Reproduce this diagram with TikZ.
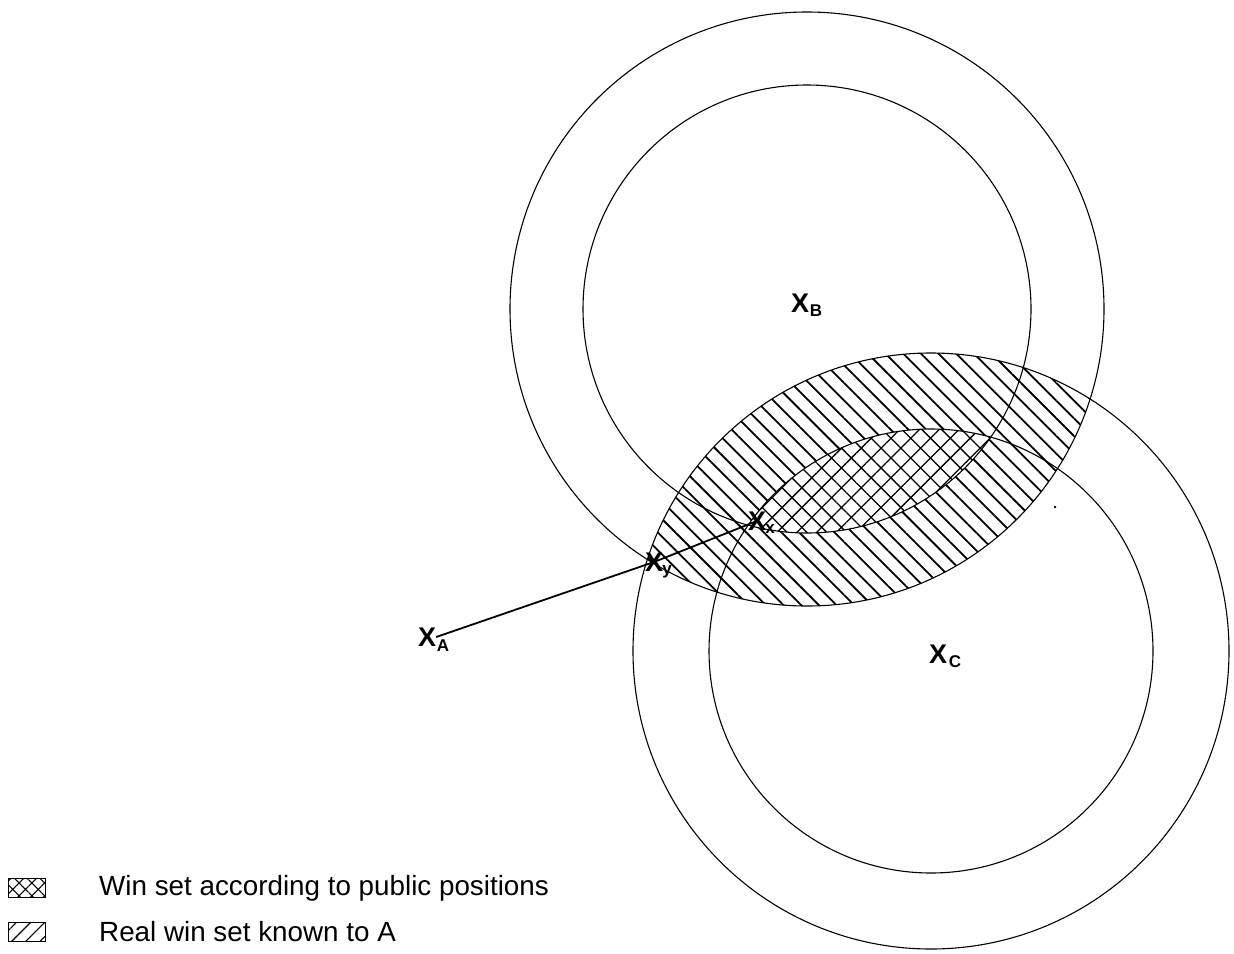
\documentclass[tikz,border=0pt]{standalone}
\usepackage{fontspec}
\setmainfont{Liberation Sans}
\usetikzlibrary{patterns.meta}
\begin{document}
\begin{tikzpicture}[x=1pt,y=-1pt,
  circ/.style={draw=black,line width=1.1pt},
  xmark/.style={font=\fontsize{27}{27}\selectfont\bfseries,inner sep=0pt},
  xsub/.style={font=\fontsize{17}{17}\selectfont\bfseries,inner sep=0pt},
  legtext/.style={font=\fontsize{27.8}{30}\selectfont,inner sep=0pt,anchor=west},
  realhatch/.style={pattern={Lines[angle=-45,distance=12.5pt,line width=1.8pt]}},
  pubhatch/.style={pattern={Hatch[angle=45,distance=14pt,line width=1.3pt]}},
  legreal/.style={draw=black,line width=1.4pt,pattern={Lines[angle=45,distance=10pt,line width=1.1pt]}},
  legpub/.style={draw=black,line width=1.4pt,pattern={Hatch[angle=45,distance=9pt,line width=1pt]}},
  conn/.style={draw=black,line width=1.8pt}
]
\useasboundingbox (0,0) rectangle (1234,953);
\coordinate (cB) at (807,309);
\coordinate (cC) at (931,651);
% real win set: lens of the outer circles
\begin{scope}
  \clip (cB) circle[radius=297pt];
  \fill[realhatch] (cC) circle[radius=298pt];
\end{scope}
% public win set: lens of the inner circles
\begin{scope}
  \clip (cB) circle[radius=224pt];
  \fill[white] (cC) circle[radius=222pt];
  \fill[pubhatch] (cC) circle[radius=222pt];
\end{scope}
\draw[circ] (cB) circle[radius=297pt];
\draw[circ] (cB) circle[radius=224pt];
\draw[circ] (cC) circle[radius=298pt];
\draw[circ] (cC) circle[radius=222pt];
\fill (1055,507) circle[radius=1.3pt];
% labels
\node[xmark] (XB) at (800,303) {X};
\node[xsub] (sB) at (816,311) {B};
\node[xmark] (XC) at (938,654) {X};
\node[xsub] (sC) at (955,662) {C};
\node[xmark] (XA) at (427,637) {X};
\node[xsub] (sA) at (443,646) {A};
\node[xmark] (Xy) at (654,562) {X};
\node[xsub] (sy) at (667,572) {y};
\node[xmark] (Xx) at (757,521) {X};
\node[xsub] (sx) at (770,529) {x};
\draw[conn] (XA.east) -- (Xy.center) -- (Xx.center);
% legend
\node[legpub, minimum width=37pt, minimum height=19pt, inner sep=0pt] (L1) at (27,888) {};
\node[legtext] (T1) at (99,888) {Win set according to public positions};
\node[legreal, minimum width=37pt, minimum height=19pt, inner sep=0pt] (L2) at (27,932) {};
\node[legtext] (T2) at (99,932) {Real win set known to A};
\end{tikzpicture}
\end{document}
